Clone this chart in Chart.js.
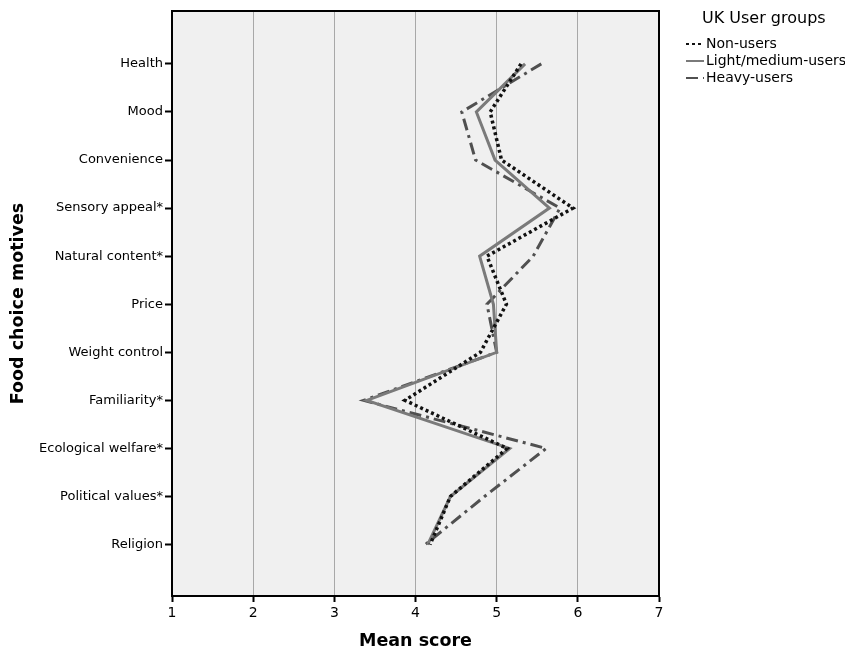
<!DOCTYPE html>
<html>
<head>
<meta charset="utf-8">
<script src="https://cdn.jsdelivr.net/npm/chart.js@4.4.0/dist/chart.umd.min.js"></script>
<style>
    html, body { margin: 0; padding: 0; background: #fff; }
    #wrap { width: 845px; height: 655px; position: relative; }
</style>
</head>
<body>
<div id="wrap"><canvas id="motivesChart"></canvas></div>
<script>
// Food choice motives - mean scores per UK user group

const categories = ['Health', 'Mood', 'Convenience', 'Sensory appeal*', 'Natural content*', 'Price',
    'Weight control', 'Familiarity*', 'Ecological welfare*', 'Political values*', 'Religion'];
const nonUsers   = [5.30, 4.92, 5.06, 5.94, 4.88, 5.12, 4.80, 3.87, 5.13, 4.43, 4.18];
const lightUsers = [5.35, 4.75, 4.98, 5.65, 4.79, 4.96, 5.00, 3.40, 5.16, 4.43, 4.15];
const heavyUsers = [5.55, 4.57, 4.74, 5.78, 5.45, 4.88, 5.00, 3.36, 5.61, 4.85, 4.12];
const xTicks = [1, 2, 3, 4, 5, 6, 7];
const seriesNames = ['Non-users', 'Light/medium-users', 'Heavy-users'];
const legendTitle = 'UK User groups';

const FONT = "'DejaVu Sans', 'Liberation Sans', Arial, sans-serif";

// value i belongs to category i
function toPoints(values) {
    return values.map((v, i) => ({ x: v, y: i }));
}

// grey plot background
const plotBackground = {
    id: 'plotBackground',
    beforeDraw(chart) {
        const { ctx, chartArea: a } = chart;
        ctx.save();
        ctx.fillStyle = '#f0f0f0';
        ctx.fillRect(a.left, a.top, a.right - a.left, a.bottom - a.top);
        ctx.restore();
    }
};

// black frame round the plot
const plotFrame = {
    id: 'plotFrame',
    afterDraw(chart) {
        const { ctx, chartArea: a } = chart;
        ctx.save();
        ctx.strokeStyle = '#000';
        ctx.lineWidth = 2;
        ctx.strokeRect(a.left, a.top, a.right - a.left, a.bottom - a.top);
        ctx.restore();
    }
};

// legend in the top right corner
const sideLegend = {
    id: 'sideLegend',
    afterDraw(chart) {
        const ctx = chart.ctx;
        ctx.save();
        ctx.fillStyle = '#000';
        ctx.textBaseline = 'middle';
        ctx.textAlign = 'left';
        ctx.font = '16px ' + FONT;
        ctx.fillText(legendTitle, 702, 19);

        ctx.font = '14px ' + FONT;
        chart.data.datasets.forEach((ds, i) => {
            const y = 44 + i * 17;
            ctx.strokeStyle = ds.borderColor;
            ctx.lineWidth = 2;
            ctx.setLineDash(ds.borderDash || []);
            ctx.beginPath();
            ctx.moveTo(686, y);
            ctx.lineTo(704, y);
            ctx.stroke();
            ctx.setLineDash([]);
            ctx.fillText(ds.label, 706, y);
        });
        ctx.restore();
    }
};

const ctx = document.getElementById('motivesChart').getContext('2d');

new Chart(ctx, {
    type: 'line',
    data: {
        datasets: [
            {
                label: seriesNames[0],
                data: toPoints(nonUsers),
                borderColor: '#111111',
                borderWidth: 3.5,
                borderDash: [3, 3]
            },
            {
                label: seriesNames[1],
                data: toPoints(lightUsers),
                borderColor: '#7a7a7a',
                borderWidth: 3
            },
            {
                label: seriesNames[2],
                data: toPoints(heavyUsers),
                borderColor: '#505050',
                borderWidth: 3,
                borderDash: [12, 5, 3, 5]
            }
        ]
    },
    options: {
        responsive: true,
        maintainAspectRatio: false,
        animation: false,
        indexAxis: 'y',
        layout: {
            padding: { left: 0, right: 186, top: 11, bottom: 0 }
        },
        elements: {
            point: { radius: 0 },
            line: { tension: 0, fill: false, borderCapStyle: 'butt' }
        },
        plugins: {
            legend: { display: false },
            tooltip: { enabled: false }
        },
        scales: {
            x: {
                type: 'linear',
                position: 'bottom',
                min: xTicks[0],
                max: xTicks[xTicks.length - 1],
                afterBuildTicks: (scale) => {
                    scale.ticks = xTicks.map(v => ({ value: v }));
                },
                afterFit: (scale) => {
                    scale.height = 59;
                },
                ticks: {
                    color: '#000',
                    font: { family: FONT, size: 14 },
                    padding: 3,
                    maxRotation: 0
                },
                grid: {
                    color: '#a8a8a8',
                    lineWidth: 1,
                    tickColor: '#000',
                    tickLength: 6,
                    tickWidth: 2
                },
                border: { color: '#000', width: 2 },
                title: {
                    display: true,
                    text: 'Mean score',
                    color: '#000',
                    font: { family: FONT, size: 17.5, weight: 'bold' },
                    padding: { top: 0, bottom: 3 }
                }
            },
            y: {
                type: 'linear',
                position: 'left',
                reverse: true,
                min: -1.1,
                max: categories.length + 0.07,
                afterBuildTicks: (scale) => {
                    scale.ticks = categories.map((c, i) => ({ value: i }));
                },
                afterFit: (scale) => {
                    scale.width = 172;
                },
                ticks: {
                    autoSkip: false,
                    color: '#000',
                    font: { family: FONT, size: 13 },
                    padding: 2,
                    callback: (value) => categories[value]
                },
                grid: {
                    drawOnChartArea: false,
                    tickColor: '#000',
                    tickLength: 7,
                    tickWidth: 2
                },
                border: { color: '#000', width: 2 },
                title: {
                    display: true,
                    text: 'Food choice motives',
                    color: '#000',
                    font: { family: FONT, size: 17.5, weight: 'bold' },
                    padding: { top: 8, bottom: 0 }
                }
            }
        }
    },
    plugins: [plotBackground, plotFrame, sideLegend]
});
</script>
</body>
</html>
